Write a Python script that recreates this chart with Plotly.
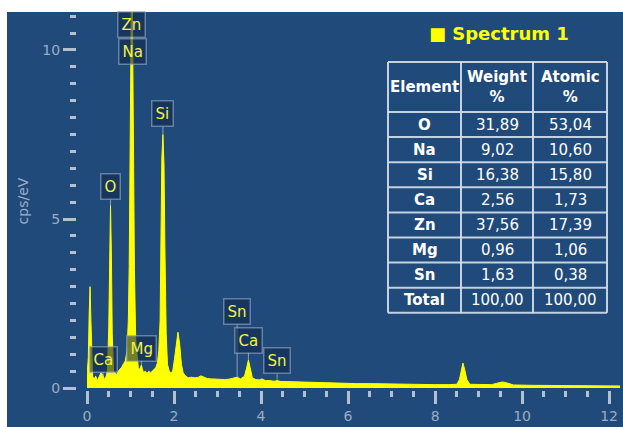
import numpy as np
import plotly.graph_objects as go

# ---- EDS spectrum (energy in keV, intensity in cps/eV) ----
energy_kev = [0.00, 0.03, 0.05, 0.07, 0.09, 0.11, 0.13, 0.16, 0.20, 0.24,
              0.28, 0.32, 0.36, 0.40, 0.44, 0.47, 0.50, 0.52, 0.54, 0.56,
              0.58, 0.61, 0.64, 0.68, 0.72, 0.76, 0.80, 0.84, 0.88, 0.92,
              0.95, 0.97, 0.99, 1.01, 1.025, 1.045, 1.065, 1.09, 1.12, 1.15,
              1.18, 1.21, 1.235, 1.25, 1.27, 1.30, 1.34, 1.38, 1.42, 1.46,
              1.50, 1.54, 1.58, 1.62, 1.65, 1.68, 1.70, 1.72, 1.745, 1.77,
              1.79, 1.82, 1.85, 1.89, 1.93, 1.97, 2.01, 2.05, 2.09, 2.13,
              2.17, 2.21, 2.27, 2.33, 2.40, 2.48, 2.56, 2.62, 2.68, 2.76,
              2.86, 2.96, 3.06, 3.16, 3.26, 3.36, 3.45, 3.53, 3.62, 3.67,
              3.71, 3.75, 3.80, 3.88, 3.96, 4.02, 4.10, 4.20, 4.30, 4.37,
              4.46, 4.60, 4.80, 5.00, 5.30, 5.60, 5.90, 6.20, 6.50, 6.80,
              7.10, 7.40, 7.70, 8.00, 8.30, 8.50, 8.56, 8.60, 8.64, 8.68,
              8.73, 8.80, 9.00, 9.30, 9.42, 9.55, 9.68, 9.80, 10.2, 10.6,
              11.0, 11.5, 12.25]

cps_per_ev = [0.35, 0.9, 2.2, 3.0, 2.0, 0.8, 0.35, 0.25, 0.35, 0.22,
              0.35, 0.45, 0.40, 0.25, 0.35, 0.5, 1.8, 4.6, 5.4, 4.0,
              1.6, 0.5, 0.45, 0.4, 0.5, 0.55, 0.62, 0.72, 0.8, 1.1,
              2.0, 3.6, 7.0, 10.8, 12.5, 11.0, 7.5, 3.5, 1.4, 0.85,
              0.6, 0.55, 0.62, 0.68, 0.58, 0.45, 0.5, 0.43, 0.5, 0.45,
              0.5, 0.55, 0.6, 0.75, 1.1, 2.0, 4.5, 6.8, 7.5, 6.6,
              4.2, 1.6, 0.7, 0.5, 0.45, 0.5, 0.85, 1.35, 1.65, 1.3,
              0.7, 0.45, 0.35, 0.3, 0.32, 0.3, 0.32, 0.36, 0.32, 0.28,
              0.27, 0.26, 0.25, 0.25, 0.26, 0.28, 0.32, 0.27, 0.35, 0.6,
              0.83, 0.6, 0.3, 0.25, 0.24, 0.27, 0.22, 0.22, 0.2, 0.22,
              0.19, 0.19, 0.18, 0.17, 0.16, 0.15, 0.14, 0.13, 0.13, 0.12,
              0.12, 0.11, 0.11, 0.10, 0.10, 0.11, 0.25, 0.55, 0.74, 0.55,
              0.25, 0.11, 0.10, 0.10, 0.14, 0.18, 0.14, 0.09, 0.08, 0.08,
              0.07, 0.07, 0.06]

# ---- element line markers ----
line_names = ["Zn", "Na", "O", "Si", "Ca", "Mg", "Sn", "Ca", "Sn"]
line_energies = [1.03, 1.04, 0.54, 1.745, 0.37, 1.25, 3.45, 3.71, 4.37]

# ---- quantification table ----
table_elements = ["O", "Na", "Si", "Ca", "Zn", "Mg", "Sn", "Total"]
table_weight = ["31,89", "9,02", "16,38", "2,56", "37,56", "0,96", "1,63", "100,00"]
table_atomic = ["53,04", "10,60", "15,80", "1,73", "17,39", "1,06", "0,38", "100,00"]
table_header = ["Element", "Weight<br>%", "Atomic<br>%"]

spectrum_title = "■ Spectrum 1"
x_tick_labels = ["0", "2", "4", "6", "8", "10", "12"]

# ---- layout geometry (pixels) ----
W, H = 623, 427
ML, MR, MT, MB = 76, 3, 12, 37
PW, PH = W - ML - MR, H - MT - MB
Y_RANGE = [-0.059, 11.124]
X_RANGE = [0, 12.25]

def px_x(p):
    return (p - ML) / PW

def px_y(p):
    return (H - MB - p) / PH

def y_to_px(v):
    return H - MB - (v - Y_RANGE[0]) / (Y_RANGE[1] - Y_RANGE[0]) * PH

BG = "#1f4a7a"
TICK = "#b3c0d0"
TICKLABEL = "#9cadc3"
YELLOW = "#ffff00"
FONT = "DejaVu Sans"

fig = go.Figure()
fig.add_trace(go.Scatter(
    x=energy_kev, y=cps_per_ev, mode="lines",
    line=dict(color=YELLOW, width=1), fill="tozeroy", fillcolor=YELLOW,
    hoverinfo="skip", showlegend=False,
))

annotations = []
shapes = []

# label boxes: vertical centre of each box (data units)
label_centres = [10.74, 9.97, 5.95, 8.11, 0.85, 1.18, 2.25, 1.42, 0.80]
for name, e, yc in zip(line_names, line_energies, label_centres):
    target = float(np.interp(e, energy_kev, cps_per_ev))
    gap_px = y_to_px(target) - y_to_px(yc)
    show = gap_px > 15.5
    ann = dict(
        text=name, font=dict(family=FONT, size=15, color="#f2f24a"),
        bgcolor="rgba(18,42,74,0.6)", bordercolor="rgba(150,172,198,0.6)",
        borderwidth=1.5, borderpad=3,
    )
    if show:
        ann.update(x=e, y=target, xref="x", yref="y", axref="x", ayref="y",
                   ax=e, ay=yc, showarrow=True, arrowhead=0, arrowwidth=1,
                   arrowcolor="rgba(170,190,212,0.75)", standoff=0)
    else:
        ann.update(x=e, y=yc, xref="x", yref="y", showarrow=False,
                   xanchor="center", yanchor="middle")
    annotations.append(ann)

# spectrum title
annotations.append(dict(
    text=spectrum_title, x=px_x(427), y=px_y(33), xref="paper", yref="paper",
    xanchor="left", yanchor="middle", showarrow=False,
    font=dict(family=FONT, size=18, color=YELLOW, weight="bold"),
))

# quantification table drawn as a grid of cells
col_edges = [388, 461, 533, 607]
header_h, row_h = 50, 25.1
row_edges = [62, 62 + header_h] + [62 + header_h + row_h * (i + 1) for i in range(len(table_elements))]
GRID = "rgba(214,224,236,0.9)"
for xe in col_edges:
    shapes.append(dict(type="line", xref="paper", yref="paper",
                       x0=px_x(xe), x1=px_x(xe), y0=px_y(row_edges[0]), y1=px_y(row_edges[-1]),
                       line=dict(color=GRID, width=2)))
for ye in row_edges:
    shapes.append(dict(type="line", xref="paper", yref="paper",
                       x0=px_x(col_edges[0]), x1=px_x(col_edges[-1]), y0=px_y(ye), y1=px_y(ye),
                       line=dict(color=GRID, width=2)))

def cell_text(txt, ci, y0, y1, bold):
    xc = (col_edges[ci] + col_edges[ci + 1]) / 2
    yc = (y0 + y1) / 2
    return dict(text=txt, x=px_x(xc), y=px_y(yc), xref="paper", yref="paper",
                xanchor="center", yanchor="middle", showarrow=False,
                font=dict(family=FONT, size=15, color="#ffffff",
                          weight="bold" if bold else "normal"))

for ci, h in enumerate(table_header):
    annotations.append(cell_text(h, ci, row_edges[0], row_edges[1], True))
for ri, (el, wt, at) in enumerate(zip(table_elements, table_weight, table_atomic)):
    y0, y1 = row_edges[ri + 1], row_edges[ri + 2]
    annotations.append(cell_text(el, 0, y0, y1, True))
    annotations.append(cell_text(wt, 1, y0, y1, False))
    annotations.append(cell_text(at, 2, y0, y1, False))

# white page strips around the panel
shapes.append(dict(type="rect", xref="paper", yref="paper", layer="above",
                   x0=px_x(-5), x1=px_x(W + 5), y0=px_y(0) + 0.05, y1=px_y(12),
                   fillcolor="white", line=dict(width=0)))
shapes.append(dict(type="rect", xref="paper", yref="paper", layer="above",
                   x0=px_x(-5), x1=px_x(7), y0=px_y(H + 5), y1=px_y(0) + 0.05,
                   fillcolor="white", line=dict(width=0)))

fig.update_layout(
    width=W, height=H,
    margin=dict(l=ML, r=MR, t=MT, b=MB, pad=0),
    paper_bgcolor=BG, plot_bgcolor=BG,
    showlegend=False,
    annotations=annotations,
    shapes=shapes,
    xaxis=dict(
        domain=[px_x(87), 1], range=X_RANGE, anchor="free", position=0,
        showgrid=False, zeroline=False, showline=False,
        tickmode="array", tickvals=[0, 2, 4, 6, 8, 10, 12], ticktext=x_tick_labels,
        ticks="outside", ticklen=13, tickwidth=3, tickcolor=TICK,
        tickfont=dict(family=FONT, size=14, color=TICKLABEL),
        minor=dict(dtick=0.5, tick0=0, ticks="outside", ticklen=6, tickwidth=3, tickcolor=TICK),
        fixedrange=True,
    ),
    yaxis=dict(
        domain=[0, 1], range=Y_RANGE, anchor="free", position=0,
        showgrid=False, zeroline=False, showline=False,
        tickmode="linear", tick0=0, dtick=5,
        ticks="outside", ticklen=13, tickwidth=3, tickcolor=TICK,
        tickfont=dict(family=FONT, size=14, color=TICKLABEL),
        minor=dict(dtick=0.5, tick0=0, ticks="outside", ticklen=6, tickwidth=3, tickcolor=TICK),
        title=dict(text="cps/eV", font=dict(family=FONT, size=14, color=TICKLABEL), standoff=9),
        fixedrange=True,
    ),
)

fig.write_html("out.html")
